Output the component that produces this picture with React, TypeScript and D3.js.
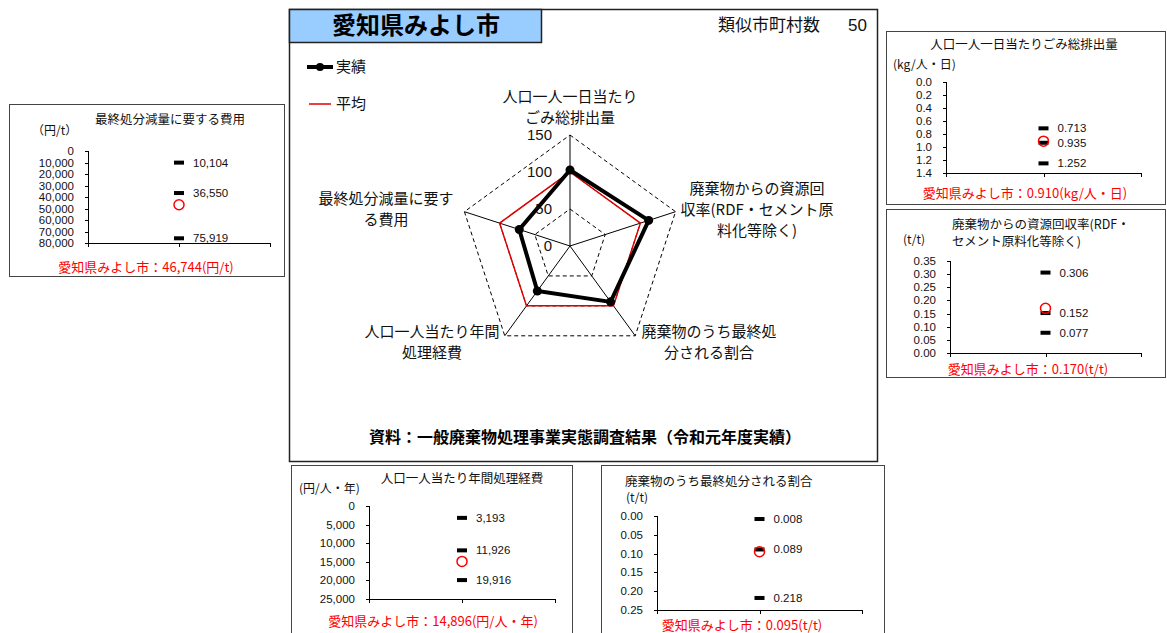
import React from 'react';
import * as d3 from 'd3';

// radar (index, average = 100)
const radarLabels = [
  ['人口一人一日当たり', 'ごみ総排出量'],
  ['廃棄物からの資源回', '収率(RDF・セメント原', '料化等除く)'],
  ['廃棄物のうち最終処', '分される割合'],
  ['人口一人当たり年間', '処理経費'],
  ['最終処分減量に要す', 'る費用'],
];
const radarActual = [102.7, 111.8, 93.3, 75.1, 72.1];
const radarAverage = [100, 100, 100, 100, 100];
const radarTicks = [0, 50, 100, 150];

// small panels: [min, average, max] marks + city value
const costReductionValues = [10104, 36550, 75919];
const costReductionCity = 46744;
const costReductionTicks = [0, 10000, 20000, 30000, 40000, 50000, 60000, 70000, 80000];

const wastePerDayValues = [0.713, 0.935, 1.252];
const wastePerDayCity = 0.910;
const wastePerDayTicks = [0, 0.2, 0.4, 0.6, 0.8, 1.0, 1.2, 1.4];

const recoveryValues = [0.306, 0.152, 0.077];
const recoveryCity = 0.170;
const recoveryTicks = [0, 0.05, 0.1, 0.15, 0.2, 0.25, 0.3, 0.35];

const annualCostValues = [3193, 11926, 19916];
const annualCostCity = 14896;
const annualCostTicks = [0, 5000, 10000, 15000, 20000, 25000];

const landfillValues = [0.008, 0.089, 0.218];
const landfillCity = 0.095;
const landfillTicks = [0, 0.05, 0.1, 0.15, 0.2, 0.25];

const JP = '"Noto Sans CJK JP", "Noto Sans", sans-serif';
const NUM = '"Liberation Sans", Arial, sans-serif';

const fmtInt = d3.format(',');
const fmt1 = d3.format('.1f');
const fmt2 = d3.format('.2f');
const fmt3 = d3.format('.3f');

type PanelProps = {
  box: [number, number, number, number];
  plot: [number, number, number, number];
  ticks: number[];
  tickFmt: (n: number) => string;
  valFmt: (n: number) => string;
  reversed: boolean;
  values: number[];
  city: number;
  title: { text: string; x: number; y: number; anchor: string }[];
  unit: { text: string; x: number; y: number };
  caption: { text: string; x: number; y: number };
};

const SmallPanel = (p: PanelProps) => {
  const [bx, by, bw, bh] = p.box;
  const [x0, x1, y0, y1] = p.plot;
  const dom = d3.extent(p.ticks) as [number, number];
  const y = d3.scaleLinear().domain(dom).range(p.reversed ? [y0, y1] : [y1, y0]);
  const cx = (x0 + x1) / 2;
  const bottom = Math.max(y0, y1);
  return (
    <g>
      <rect x={bx + 0.5} y={by + 0.5} width={bw} height={bh} fill="#fff" stroke="#444" strokeWidth={1} />
      {p.title.map((t, i) => (
        <text key={i} x={t.x} y={t.y} dy="0.35em" textAnchor={t.anchor as any} fontFamily={JP} fontSize={12.5} fill="#111">
          {t.text}
        </text>
      ))}
      <text x={p.unit.x} y={p.unit.y} dy="0.35em" fontFamily={JP} fontSize={12} fill="#111">{p.unit.text}</text>
      <line x1={x0 + 0.5} x2={x0 + 0.5} y1={Math.min(y0, y1)} y2={bottom} stroke="#000" />
      <line x1={x0} x2={x1} y1={bottom + 0.5} y2={bottom + 0.5} stroke="#000" />
      {[x0, cx, x1].map((tx, i) => (
        <line key={i} x1={Math.round(tx) + 0.5} x2={Math.round(tx) + 0.5} y1={bottom} y2={bottom + 4} stroke="#000" />
      ))}
      {p.ticks.map((t, i) => (
        <g key={i}>
          <line x1={x0 - 3} x2={x0} y1={Math.round(y(t)) + 0.5} y2={Math.round(y(t)) + 0.5} stroke="#000" />
          <text x={x0 - 14} y={y(t)} dy="0.35em" textAnchor="end" fontFamily={NUM} fontSize={11.5} fill="#111">
            {p.tickFmt(t)}
          </text>
        </g>
      ))}
      {p.values.map((v, i) => (
        <g key={i}>
          <rect x={cx - 5} y={y(v) - 2} width={10} height={4} fill="#000" />
          <text x={cx + 14} y={y(v)} dy="0.35em" fontFamily={NUM} fontSize={11.5} fill="#111">
            {p.valFmt(v)}
          </text>
        </g>
      ))}
      <circle cx={cx} cy={y(p.city)} r={5} fill="none" stroke="#ff0000" strokeWidth={1.5} />
      <text x={p.caption.x} y={p.caption.y} dy="0.35em" textAnchor="middle" fontFamily={JP} fontSize={13} fill="#ff0000">
        {p.caption.text}
      </text>
    </g>
  );
};

const Radar = () => {
  const cx = 570;
  const cy = 246;
  const r = d3.scaleLinear().domain([0, 150]).range([0, 111]);
  const n = radarLabels.length;
  const ang = (i: number) => (i * 2 * Math.PI) / n;
  const line = d3.lineRadial<number>()
    .angle((_, i) => ang(i))
    .radius((d) => r(d))
    .curve(d3.curveLinearClosed);
  const pt = (v: number, i: number) => [cx + r(v) * Math.sin(ang(i)), cy - r(v) * Math.cos(ang(i))];
  const labelPos = [
    { x: 570, y: 97 },
    { x: 757, y: 189 },
    { x: 709, y: 332 },
    { x: 432, y: 332 },
    { x: 386, y: 199 },
  ];
  return (
    <g>
      <g transform={`translate(${cx},${cy})`}>
        {radarTicks.slice(1).map((t) => (
          <path key={t} d={line(radarLabels.map(() => t)) || ''} fill="none" stroke="#000" strokeWidth={1} strokeDasharray="4,3" />
        ))}
        {radarLabels.map((_, i) => {
          const [px, py] = pt(150, i);
          return <line key={i} x1={0} y1={0} x2={px - cx} y2={py - cy} stroke="#000" strokeWidth={1} />;
        })}
        <path d={line(radarAverage) || ''} fill="none" stroke="#e00000" strokeWidth={1.5} />
        <path d={line(radarActual) || ''} fill="none" stroke="#000" strokeWidth={4} />
      </g>
      {radarActual.map((v, i) => {
        const [px, py] = pt(v, i);
        return <circle key={i} cx={px} cy={py} r={4.5} fill="#000" />;
      })}
      {radarTicks.map((t) => (
        <text key={t} x={cx - 18} y={cy - r(t)} dy="0.35em" textAnchor="end" fontFamily={NUM} fontSize={15} fill="#111">
          {t}
        </text>
      ))}
      {radarLabels.map((lines, i) => (
        <text key={i} fontFamily={JP} fontSize={15} fill="#111" textAnchor="middle">
          {lines.map((l, j) => (
            <tspan key={j} x={labelPos[i].x} y={labelPos[i].y + j * 21} dy="0.35em">{l}</tspan>
          ))}
        </text>
      ))}
    </g>
  );
};

const App = () => {
  return (
    <svg width={1167} height={633} style={{ position: 'absolute', left: 0, top: 0, background: '#fff' }}>
      <rect x={0} y={0} width={1167} height={633} fill="#fff" />
      {/* main panel */}
      <rect x={289.5} y={9.5} width={588} height={452} fill="#fff" stroke="#222" strokeWidth={1.5} />
      <rect x={289.5} y={9.5} width={252} height={33} fill="#99ccff" stroke="#222" strokeWidth={1.5} />
      <text x={416} y={26} dy="0.35em" textAnchor="middle" fontFamily={JP} fontWeight="bold" fontSize={24} fill="#000">
        愛知県みよし市
      </text>
      <text x={718} y={25} dy="0.35em" fontFamily={JP} fontSize={17} fill="#111">類似市町村数</text>
      <text x={848} y={25} dy="0.35em" fontFamily={NUM} fontSize={17} fill="#111">50</text>

      <line x1={307} x2={333} y1={67} y2={67} stroke="#000" strokeWidth={4} />
      <circle cx={320} cy={67} r={4} fill="#000" />
      <text x={336} y={67} dy="0.35em" fontFamily={JP} fontSize={15} fill="#111">実績</text>
      <line x1={309} x2={331} y1={104} y2={104} stroke="#e00000" strokeWidth={1.5} />
      <text x={336} y={104} dy="0.35em" fontFamily={JP} fontSize={15} fill="#111">平均</text>

      <Radar />

      <text x={585} y={437} dy="0.35em" textAnchor="middle" fontFamily={JP} fontWeight="bold" fontSize={16} fill="#000">
        資料：一般廃棄物処理事業実態調査結果（令和元年度実績）
      </text>

      <SmallPanel
        box={[9, 104, 275, 172]}
        plot={[88, 270, 151, 243]}
        ticks={costReductionTicks}
        tickFmt={(v) => fmtInt(v)}
        valFmt={(v) => fmtInt(v)}
        reversed={true}
        values={costReductionValues}
        city={costReductionCity}
        title={[{ text: '最終処分減量に要する費用', x: 170, y: 120, anchor: 'middle' }]}
        unit={{ text: '（円/t）', x: 32, y: 131 }}
        caption={{ text: `愛知県みよし市：${fmtInt(costReductionCity)}(円/t)`, x: 146, y: 267 }}
      />
      <SmallPanel
        box={[886, 31, 279, 173]}
        plot={[946, 1141, 82, 173]}
        ticks={wastePerDayTicks}
        tickFmt={(v) => fmt1(v)}
        valFmt={(v) => fmt3(v)}
        reversed={true}
        values={wastePerDayValues}
        city={wastePerDayCity}
        title={[{ text: '人口一人一日当たりごみ総排出量', x: 1024, y: 45, anchor: 'middle' }]}
        unit={{ text: '(kg/人・日)', x: 893, y: 65 }}
        caption={{ text: `愛知県みよし市：${fmt3(wastePerDayCity)}(kg/人・日)`, x: 1025, y: 193 }}
      />
      <SmallPanel
        box={[886, 209, 279, 168]}
        plot={[950, 1141, 261, 353]}
        ticks={recoveryTicks}
        tickFmt={(v) => fmt2(v)}
        valFmt={(v) => fmt3(v)}
        reversed={false}
        values={recoveryValues}
        city={recoveryCity}
        title={[
          { text: '廃棄物からの資源回収率(RDF・', x: 952, y: 225, anchor: 'start' },
          { text: 'セメント原料化等除く)', x: 952, y: 242, anchor: 'start' },
        ]}
        unit={{ text: '(t/t)', x: 903, y: 240 }}
        caption={{ text: `愛知県みよし市：${fmt3(recoveryCity)}(t/t)`, x: 1028, y: 369 }}
      />
      <SmallPanel
        box={[291, 465, 281, 180]}
        plot={[369, 555, 506, 599]}
        ticks={annualCostTicks}
        tickFmt={(v) => fmtInt(v)}
        valFmt={(v) => fmtInt(v)}
        reversed={true}
        values={annualCostValues}
        city={annualCostCity}
        title={[{ text: '人口一人当たり年間処理経費', x: 462, y: 479, anchor: 'middle' }]}
        unit={{ text: '(円/人・年)', x: 299, y: 489 }}
        caption={{ text: `愛知県みよし市：${fmtInt(annualCostCity)}(円/人・年)`, x: 433, y: 621 }}
      />
      <SmallPanel
        box={[601, 465, 283, 180]}
        plot={[657, 862, 516, 610]}
        ticks={landfillTicks}
        tickFmt={(v) => fmt2(v)}
        valFmt={(v) => fmt3(v)}
        reversed={true}
        values={landfillValues}
        city={landfillCity}
        title={[{ text: '廃棄物のうち最終処分される割合', x: 625, y: 482, anchor: 'start' }]}
        unit={{ text: '(t/t)', x: 626, y: 498 }}
        caption={{ text: `愛知県みよし市：${fmt3(landfillCity)}(t/t)`, x: 742, y: 625 }}
      />
    </svg>
  );
};

export default App;
